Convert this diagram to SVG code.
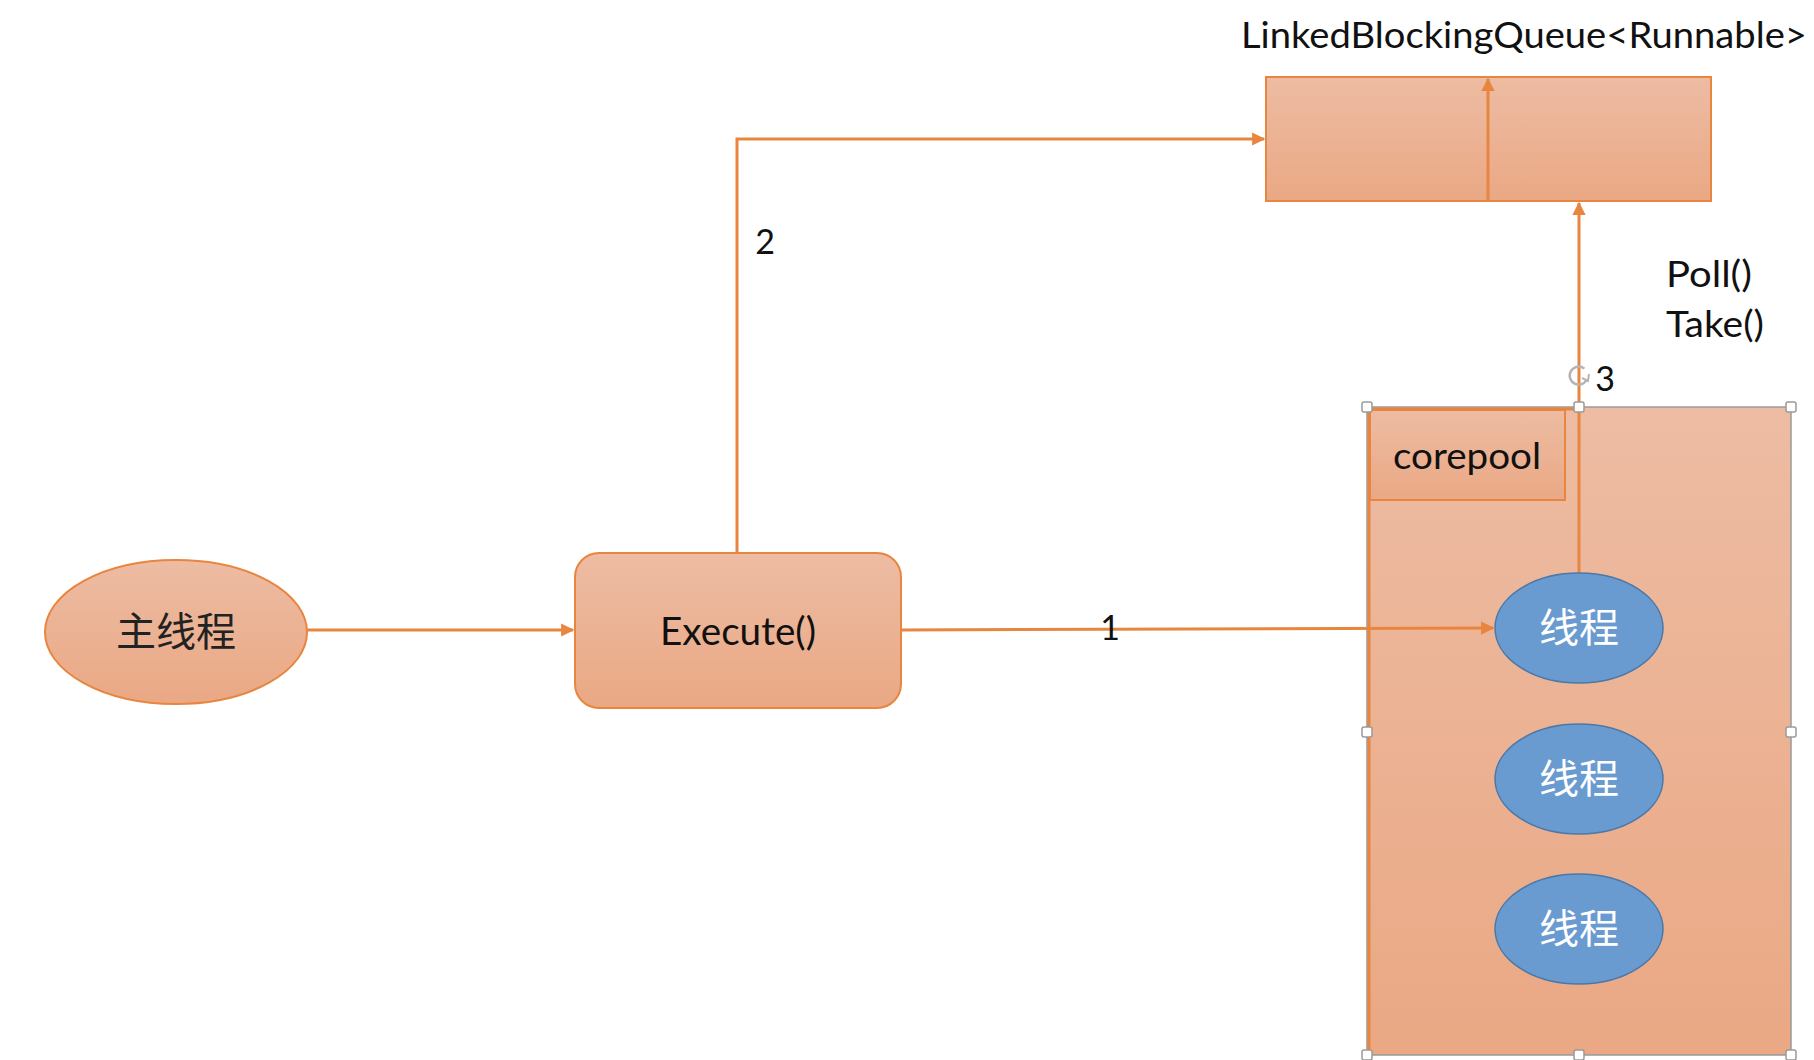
<svg xmlns="http://www.w3.org/2000/svg" width="1814" height="1060" viewBox="0 0 1814 1060">
  <defs>
    <linearGradient id="peach" x1="0" y1="0" x2="0" y2="1">
      <stop offset="0" stop-color="#EDBCA3"/>
      <stop offset="1" stop-color="#EAA884"/>
    </linearGradient>
    <marker id="arrow" viewBox="0 0 10 10" refX="9" refY="5" markerWidth="4.4" markerHeight="4.4" orient="auto" markerUnits="strokeWidth">
      <path d="M0,0 L10,5 L0,10 z" fill="#E8853E"/>
    </marker>
  </defs>
  <style>
    .box { fill: url(#peach); stroke: #E8853E; stroke-width: 2; }
    .wire { fill: none; stroke: #E8853E; stroke-width: 3; marker-end: url(#arrow); }
    .thread { fill: #6A9BD0; stroke: #4A78A8; stroke-width: 1.5; }
    .lbl { font-family: Lato, "Liberation Sans", "Noto Sans CJK SC", sans-serif; fill: #111; }
    .cjk { font-family: "Noto Sans CJK SC", sans-serif; }
    .handle { fill: #fff; stroke: #9a9a9a; stroke-width: 1.5; }
  </style>

  <rect width="1814" height="1060" fill="#fff"/>

  <!-- queue -->
  <g id="queue">
    <text class="lbl" x="1241" y="48" font-size="36" textLength="566" lengthAdjust="spacingAndGlyphs">LinkedBlockingQueue&lt;Runnable&gt;</text>
    <rect class="box" x="1266" y="77" width="445" height="124"/>
  </g>

  <!-- thread pool container -->
  <g id="pool">
    <rect x="1367" y="407" width="424" height="648" fill="url(#peach)" stroke="#9a9a9a" stroke-width="1.5"/>
    <path d="M1369,1055 V409 H1579" fill="none" stroke="#E8853E" stroke-width="3"/>
  </g>

  <g id="corepool">
    <rect class="box" x="1370" y="410" width="195" height="90"/>
    <text class="lbl" x="1467" y="469" font-size="36" text-anchor="middle" textLength="148" lengthAdjust="spacingAndGlyphs">corepool</text>
  </g>

  <!-- main thread -->
  <g id="main">
    <ellipse class="box" cx="176" cy="632" rx="131" ry="72"/>
    <text class="cjk" x="176" y="646" font-size="40" text-anchor="middle" fill="#222">主线程</text>
  </g>

  <g id="execute">
    <rect class="box" x="575" y="553" width="326" height="155" rx="24"/>
    <text class="lbl" x="738" y="645" font-size="38" text-anchor="middle" textLength="156" lengthAdjust="spacingAndGlyphs">Execute()</text>
  </g>

  <!-- connectors -->
  <g id="connectors">
    <path class="wire" d="M307,630 H573"/>
    <path class="wire" d="M901,630 L1493,628"/>
    <path class="wire" d="M737,553 V139 H1264"/>
    <path class="wire" d="M1579,573 V203"/>
    <path class="wire" d="M1488,201 V79"/>
  </g>

  <g id="workers">
    <g id="worker1">
      <ellipse class="thread" cx="1579" cy="628" rx="84" ry="55"/>
      <text class="cjk" x="1579" y="642" font-size="40" text-anchor="middle" fill="#fff">线程</text>
    </g>
    <g id="worker2">
      <ellipse class="thread" cx="1579" cy="779" rx="84" ry="55"/>
      <text class="cjk" x="1579" y="793" font-size="40" text-anchor="middle" fill="#fff">线程</text>
    </g>
    <g id="worker3">
      <ellipse class="thread" cx="1579" cy="929" rx="84" ry="55"/>
      <text class="cjk" x="1579" y="943" font-size="40" text-anchor="middle" fill="#fff">线程</text>
    </g>
  </g>

  <!-- labels -->
  <g id="labels">
    <text class="lbl" x="1110" y="640" font-size="34" text-anchor="middle">1</text>
    <text class="lbl" x="765" y="254" font-size="34" text-anchor="middle">2</text>
    <text class="lbl" x="1605" y="391" font-size="34" text-anchor="middle">3</text>
    <text class="lbl" x="1666" y="287" font-size="37" textLength="86" lengthAdjust="spacingAndGlyphs">Poll()</text>
    <text class="lbl" x="1666" y="337" font-size="37" textLength="98" lengthAdjust="spacingAndGlyphs">Take()</text>
  </g>

  <!-- selection handles and rotate grip -->
  <g id="selection">
    <path d="M1584.4,368.6 A9,9 0 1 0 1586.8,379.5" fill="none" stroke="#b5b5b5" stroke-width="2.5"/>
    <path d="M1582,378 L1588,381 L1589,374" fill="none" stroke="#b5b5b5" stroke-width="2"/>
    <rect class="handle" x="1362" y="402" width="10" height="10" rx="2"/>
    <rect class="handle" x="1574" y="402" width="10" height="10" rx="2"/>
    <rect class="handle" x="1786" y="402" width="10" height="10" rx="2"/>
    <rect class="handle" x="1362" y="727" width="10" height="10" rx="2"/>
    <rect class="handle" x="1786" y="727" width="10" height="10" rx="2"/>
    <rect class="handle" x="1362" y="1050" width="10" height="10" rx="2"/>
    <rect class="handle" x="1574" y="1050" width="10" height="10" rx="2"/>
    <rect class="handle" x="1786" y="1050" width="10" height="10" rx="2"/>
  </g>
</svg>
